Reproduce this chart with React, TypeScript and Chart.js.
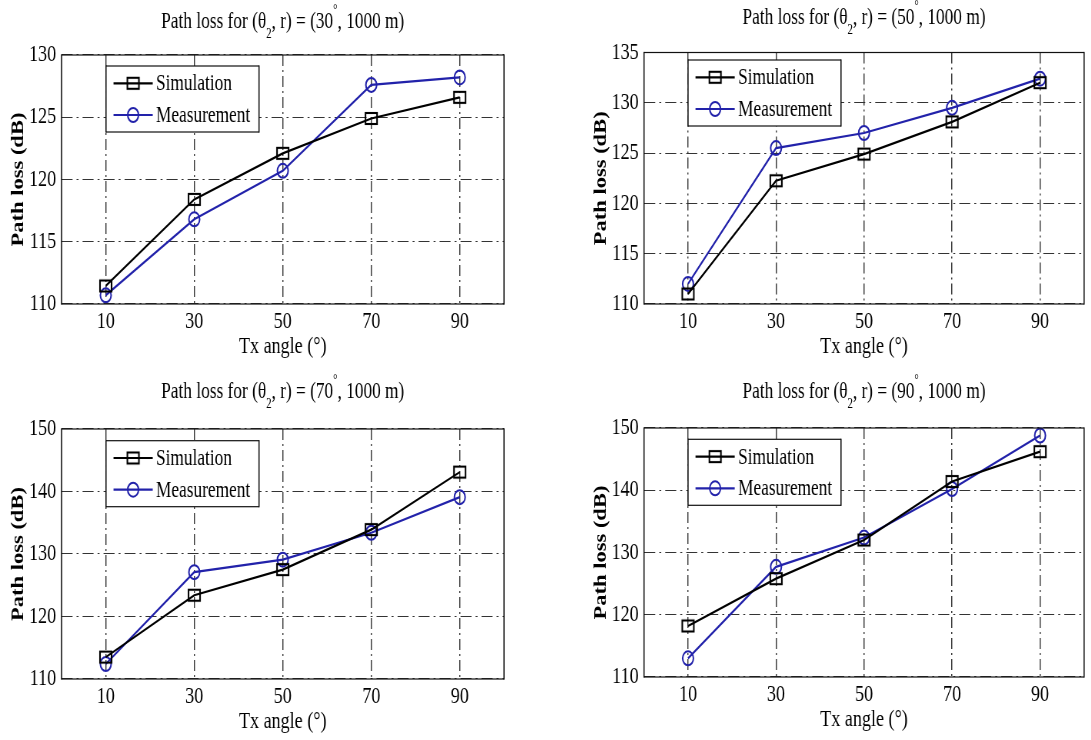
import React, { useEffect, useRef } from "react";
import { Chart, registerables } from "chart.js";

Chart.register(...registerables);

// ---------------- data ----------------
const txAngles = [10, 30, 50, 70, 90];
const xTickValues = [10, 30, 50, 70, 90];
const seriesNames = ["Simulation", "Measurement"];
const thetaValues = ["30", "50", "70", "90"];

const sim30 = [111.45, 118.4, 122.1, 124.9, 126.6];
const meas30 = [110.7, 116.8, 120.7, 127.6, 128.2];
const sim50 = [111.0, 122.25, 124.9, 128.1, 132.0];
const meas50 = [112.0, 125.5, 127.0, 129.5, 132.4];
const sim70 = [113.5, 123.4, 127.5, 133.9, 143.1];
const meas70 = [112.4, 127.1, 129.1, 133.4, 139.1];
const sim90 = [118.2, 125.8, 132.0, 141.4, 146.2];
const meas90 = [113.0, 127.7, 132.4, 140.2, 148.8];

const yMins = [110, 110, 110, 110];
const yMaxs = [130, 135, 150, 150];
const ySteps = [5, 5, 10, 10];

const xTitle = "Tx angle (°)";
const yTitle = "Path loss (dB)";

// ---------------- layout / style ----------------
const S = 1.3; // horizontal squeeze factor of the reference rendering
const FONT = "'Liberation Serif', 'Times New Roman', Times, serif";
const TEXT_COLOR = "#000000";
const SIM_COLOR = "#000000";
const MEAS_COLOR = "#2222aa";
const GRID_COLOR = "#333333";

const panels = [
  { x: 0, y: 0, w: 545, h: 370, box: { l: 61.5, r: 504, t: 55, b: 304 }, titleBase: 28, leg: { dx: 44.5, dy: 11 } },
  { x: 545, y: 0, w: 546, h: 370, box: { l: 644, r: 1085, t: 52.5, b: 304 }, titleBase: 24, leg: { dx: 44, dy: 7.5 } },
  { x: 0, y: 370, w: 545, h: 370, box: { l: 61.5, r: 504, t: 429, b: 679 }, titleBase: 28, leg: { dx: 44.5, dy: 11.7 } },
  { x: 545, y: 370, w: 546, h: 370, box: { l: 644, r: 1085, t: 428, b: 677 }, titleBase: 28, leg: { dx: 44, dy: 11.3 } },
];

const seriesSets = [
  [sim30, meas30],
  [sim50, meas50],
  [sim70, meas70],
  [sim90, meas90],
];

function makeSquare(): HTMLCanvasElement {
  const c = document.createElement("canvas");
  c.width = 19;
  c.height = 15;
  const g = c.getContext("2d")!;
  g.strokeStyle = SIM_COLOR;
  g.lineWidth = 2.1;
  g.strokeRect(2, 2, 15, 11);
  return c;
}

function Panel({ idx }: { idx: number }) {
  const ref = useRef<HTMLCanvasElement>(null);
  const L = panels[idx];
  const cw = Math.round(L.w * S);
  const ch = L.h;

  useEffect(() => {
    const canvas = ref.current!;
    const toCx = (x: number) => (x - L.x) * S;
    const boxL = toCx(L.box.l);
    const boxR = toCx(L.box.r);
    const boxT = L.box.t - L.y;
    const boxB = L.box.b - L.y;

    const tickFont = 23.5;
    const xTitleFont = 23.5;
    const yTitleFont = 22.5;
    const lh = 1.2;
    const xTitleCenter = boxB + 42.5;
    const xAxisHeight = xTitleCenter + (xTitleFont * lh) / 2 - boxB;
    const padBottom = ch - boxB - xAxisHeight;
    const yTitleCenter = toCx(L.box.l - 43);
    const yTitlePadTop = yTitleCenter - (yTitleFont * lh) / 2;

    const [simVals, measVals] = seriesSets[idx];
    const square = makeSquare();

    const decorPlugin = {
      id: "decor" + idx,
      afterDatasetsDraw(chart: any) {
        const ctx = chart.ctx as CanvasRenderingContext2D;
        const a = chart.chartArea;
        ctx.save();
        // axes box
        ctx.fillStyle = "#111";
        ctx.fillRect(a.left, a.top - 0.6, a.right - a.left, 1.2);
        ctx.fillRect(a.left, a.bottom - 0.6, a.right - a.left, 1.2);
        ctx.fillRect(a.left - (1.2 * S) / 2, a.top - 0.6, 1.2 * S, a.bottom - a.top + 1.2);
        ctx.fillRect(a.right - (1.2 * S) / 2, a.top - 0.6, 1.2 * S, a.bottom - a.top + 1.2);

        // title with subscript/superscript
        const fs = 22.5;
        const small = fs * 0.62;
        const parts = [
          { t: "Path loss for (θ", f: fs, dy: 0 },
          { t: "2", f: small, dy: 0.45 * fs },
          { t: ", r) = (" + thetaValues[idx], f: fs, dy: 0 },
          { t: "°", f: small, dy: -0.62 * fs },
          { t: ", 1000 m)", f: fs, dy: 0 },
        ];
        let total = 0;
        const widths: number[] = [];
        for (const p of parts) {
          ctx.font = `${p.f}px ${FONT}`;
          const w = ctx.measureText(p.t).width;
          widths.push(w);
          total += w;
        }
        let x = (a.left + a.right) / 2 - total / 2;
        ctx.fillStyle = TEXT_COLOR;
        ctx.textBaseline = "alphabetic";
        ctx.textAlign = "left";
        parts.forEach((p, i) => {
          ctx.font = `${p.f}px ${FONT}`;
          ctx.fillText(p.t, x, L.titleBase + p.dy);
          x += widths[i];
        });

        // legend
        const lx = toCx(L.box.l + L.leg.dx);
        const ly = boxT + L.leg.dy;
        const lw = 153 * S;
        const lhgt = 66;
        ctx.fillStyle = "#ffffff";
        ctx.fillRect(lx, ly, lw, lhgt);
        ctx.fillStyle = "#111";
        ctx.fillRect(lx, ly - 0.6, lw, 1.2);
        ctx.fillRect(lx, ly + lhgt - 0.6, lw, 1.2);
        ctx.fillRect(lx - (1.2 * S) / 2, ly - 0.6, 1.2 * S, lhgt + 1.2);
        ctx.fillRect(lx + lw - (1.2 * S) / 2, ly - 0.6, 1.2 * S, lhgt + 1.2);
        const rows = [ly + 17.3, ly + 49];
        const colors = [SIM_COLOR, MEAS_COLOR];
        rows.forEach((ry, i) => {
          const x1 = lx + 7.5 * S;
          const x2 = lx + 46.7 * S;
          ctx.strokeStyle = colors[i];
          ctx.lineWidth = 2.2;
          ctx.beginPath();
          ctx.moveTo(x1, ry);
          ctx.lineTo(x2, ry);
          ctx.stroke();
          const mx = (x1 + x2) / 2;
          if (i === 0) {
            ctx.drawImage(square, mx - square.width / 2, ry - square.height / 2);
          } else {
            ctx.lineWidth = 2;
            ctx.beginPath();
            ctx.arc(mx, ry, 7, 0, Math.PI * 2);
            ctx.stroke();
          }
          ctx.fillStyle = TEXT_COLOR;
          ctx.font = `22.5px ${FONT}`;
          ctx.textBaseline = "middle";
          ctx.fillText(seriesNames[i], lx + 50 * S, ry + 1);
        });
        ctx.restore();
      },
    };

    const chart = new Chart(canvas, {
      type: "line",
      data: {
        datasets: [
          {
            label: seriesNames[0],
            data: txAngles.map((a, i) => ({ x: a, y: simVals[i] })),
            borderColor: SIM_COLOR,
            borderWidth: 2.2,
            pointStyle: square as any,
            pointRadius: 7,
            backgroundColor: "transparent",
            clip: false as any,
            tension: 0,
          },
          {
            label: seriesNames[1],
            data: txAngles.map((a, i) => ({ x: a, y: measVals[i] })),
            borderColor: MEAS_COLOR,
            borderWidth: 2.2,
            pointStyle: "circle",
            pointRadius: 7,
            pointBorderWidth: 2,
            pointBorderColor: MEAS_COLOR,
            pointBackgroundColor: "transparent",
            backgroundColor: "transparent",
            clip: false as any,
            tension: 0,
          },
        ],
      },
      options: {
        responsive: false,
        animation: false,
        devicePixelRatio: 1,
        events: [],
        layout: { padding: { left: 0, top: boxT, right: cw - boxR, bottom: padBottom } },
        plugins: {
          legend: { display: false },
          tooltip: { enabled: false },
          title: { display: false },
        },
        scales: {
          x: {
            type: "linear",
            min: 0,
            max: 100,
            afterBuildTicks: (s: any) => {
              s.ticks = xTickValues.map((v) => ({ value: v }));
            },
            afterFit: (s: any) => {
              s.height = xAxisHeight;
            },
            grid: { drawTicks: false, color: GRID_COLOR, lineWidth: 1.1 * S },
            border: { display: false, dash: [11, 4, 2, 4] },
            ticks: {
              autoSkip: false,
              maxRotation: 0,
              padding: 3.5,
              color: TEXT_COLOR,
              font: { family: FONT, size: tickFont, lineHeight: lh },
              callback: (v: any) => String(v),
            },
            title: {
              display: true,
              text: xTitle,
              color: TEXT_COLOR,
              padding: 0,
              font: { family: FONT, size: xTitleFont, lineHeight: lh },
            },
          },
          y: {
            type: "linear",
            min: yMins[idx],
            max: yMaxs[idx],
            afterFit: (s: any) => {
              s.width = boxL;
            },
            grid: { drawTicks: false, color: GRID_COLOR, lineWidth: 1.1 },
            border: { display: false, dash: [11 * S, 4 * S, 2 * S, 4 * S] },
            ticks: {
              stepSize: ySteps[idx],
              padding: 7,
              color: TEXT_COLOR,
              font: { family: FONT, size: tickFont, lineHeight: lh },
            },
            title: {
              display: true,
              text: yTitle,
              color: TEXT_COLOR,
              padding: { top: yTitlePadTop, bottom: 0 },
              font: { family: FONT, size: yTitleFont, weight: "bold", lineHeight: lh },
            },
          },
        },
      } as any,
      plugins: [decorPlugin],
    });
    return () => chart.destroy();
  }, [idx]);

  return (
    <canvas
      ref={ref}
      width={cw}
      height={ch}
      style={{
        position: "absolute",
        left: L.x,
        top: L.y,
        width: cw + "px",
        height: ch + "px",
        transform: `scaleX(${1 / S})`,
        transformOrigin: "0 0",
      }}
    />
  );
}

export default function App() {
  return (
    <div
      style={{
        position: "fixed",
        left: 0,
        top: 0,
        width: 1091,
        height: 740,
        overflow: "hidden",
        background: "#ffffff",
      }}
    >
      {panels.map((_, i) => (
        <Panel key={i} idx={i} />
      ))}
    </div>
  );
}
